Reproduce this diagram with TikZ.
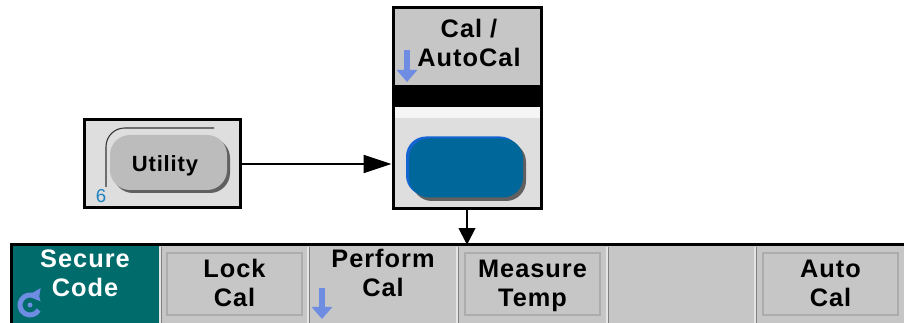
\documentclass[tikz,border=0pt]{standalone}
\usepackage{fontspec}
\setmainfont{Liberation Sans}[LetterSpace=4]
\usetikzlibrary{arrows.meta,positioning}
\definecolor{keygray}{RGB}{198,198,198}
\definecolor{panelgray}{RGB}{222,222,222}
\definecolor{tealkey}{RGB}{0,107,107}
\definecolor{calblue}{RGB}{0,103,154}
\definecolor{calhigh}{RGB}{20,100,210}
\definecolor{iconblue}{RGB}{110,140,225}
\definecolor{numblue}{RGB}{30,130,190}
\tikzset{
    panel/.style={draw, line width=2.25pt, inner sep=0pt},
    btnshadow/.style={fill=gray!75!black, rounded corners=15pt, inner sep=0pt},
    softkey/.style={draw=gray!65, line width=0.8pt, fill=keygray,
        minimum width=101.25pt, minimum height=46.5pt, inner sep=0pt},
    keytext/.style={font=\fontsize{19}{21.75}\selectfont\bfseries,
        align=center, inner sep=0pt, anchor=base},
    flowarrow/.style={line width=1.5pt, -{Triangle[length=21pt,width=13.5pt]}},
    downarrow/.style={line width=1.5pt, -{Triangle[length=12.5pt,width=12.5pt]}},
    menuarrow/.style={iconblue, line width=4pt, -{Triangle[length=9pt,width=15pt]}}
}

\begin{document}
\begin{tikzpicture}[x=0.75pt,y=-0.75pt]
\useasboundingbox (0,0) rectangle (904,323);

% Utility
\node[panel, fill=panelgray, minimum width=117pt, minimum height=66pt] (utility) at (162,164) {};
\node[btnshadow, minimum width=87.75pt, minimum height=41.25pt] (utilshadow) at (171.5,165.5) {};
\node[btnshadow, fill=keygray!95!black, minimum width=87.75pt, minimum height=41.25pt] (utilbtn) at (168.5,162.5) {};
\draw[gray!40!black, line width=0.8pt, rounded corners=14pt] (106,187) -- (106,128) -- (214,128);
\node[font=\fontsize{16.5}{16.5}\selectfont\bfseries, inner sep=0pt, anchor=base] (utiltext) at (165,172) {Utility};
\node[numblue, font=\fontsize{14}{14}\selectfont, inner sep=0pt, anchor=base] (utilnum) at (101,203) {6};

% Cal / AutoCal
\fill[panelgray] (393,8) rectangle (541,209);
\fill[keygray] (393,8) rectangle (541,85);
\fill[black] (393,85) rectangle (541,107);
\fill[gray!8] (393,107) rectangle (541,118);
\node[panel, minimum width=111pt, minimum height=150.75pt] (calbox) at (467,108.5) {};
\node[keytext] (caltitle) at (469,67) {Cal /\\AutoCal};
\draw[menuarrow] (407,50) -- (407,82);
\node[btnshadow, minimum width=85.5pt, minimum height=44.25pt] (calshadow) at (469,171.5) {};
\node[btnshadow, fill=calhigh, minimum width=85.5pt, minimum height=44.25pt] (calhi) at (463,166) {};
\node[btnshadow, fill=calblue, minimum width=85.5pt, minimum height=44.25pt] (calbtn) at (466,168) {};

% softkey bar
\node[fill=keygray, minimum width=670.5pt, minimum height=58.5pt, inner sep=0pt] (bar) at (457,284) {};
\fill[tealkey] (10,245) rectangle (159,323);
\foreach \sx in {160,308,457,607,755}{
    \draw[white!80!gray, line width=0.8pt] (\sx,247) -- (\sx,323);
    \draw[gray, line width=0.8pt] (\sx+1.5,247) -- (\sx+1.5,323);
}
\draw[line width=2.25pt] (10,245) -- (904,245);
\draw[line width=2.25pt] (11.5,245) -- (11.5,323);

\node[softkey] (lockkey) at (234.5,284) {};
\node[softkey] (measkey) at (532.5,284) {};
\node[softkey] (autokey) at (830.5,284) {};

\node[keytext, white] (securetext) at (85,297) {Secure\\Code};
\node[keytext] (locktext) at (234.5,307) {Lock\\Cal};
\node[keytext] (perftext) at (383,297) {Perform\\Cal};
\node[keytext] (meastext) at (532.5,307) {Measure\\Temp};
\node[keytext] (autotext) at (830.5,307) {Auto\\Cal};

% icons
\draw[menuarrow] (322,288) -- (322,319);
\draw[iconblue, line width=3.75pt, -{Triangle[length=7pt,width=11pt]}]
    (30,305) ++(30:10) arc[start angle=30, end angle=330, radius=10];
\fill[iconblue] (30,305) circle[radius=2.5];

% connectors
\draw[flowarrow] (utility.east) -- (utility.east -| calbox.west);
\draw[downarrow] (calbox.south) -- (calbox.south |- bar.north);
\end{tikzpicture}
\end{document}
